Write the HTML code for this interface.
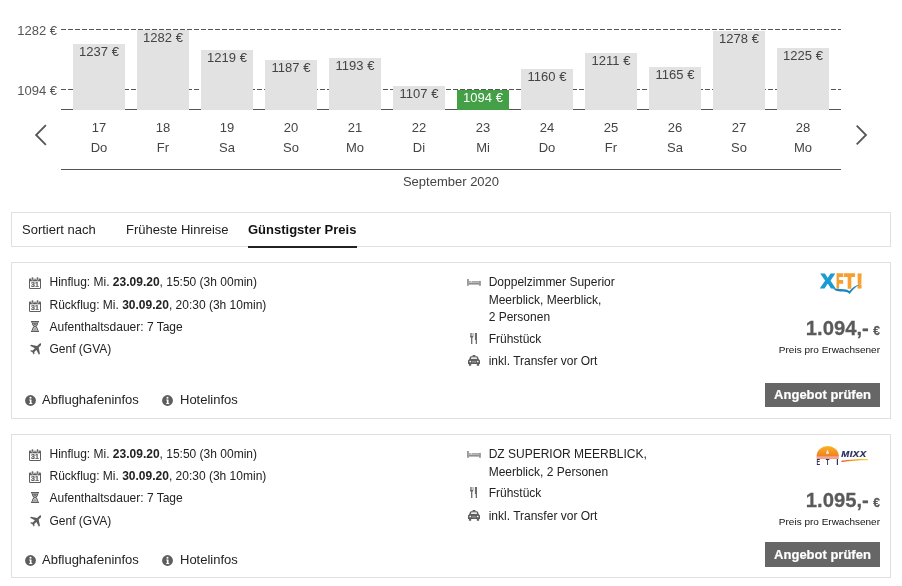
<!DOCTYPE html>
<html lang="de"><head><meta charset="utf-8"><title>Angebote</title>
<style>
html,body{margin:0;padding:0;background:#fff;}
body{width:902px;height:586px;position:relative;overflow:hidden;font-family:"Liberation Sans",Arial,Helvetica,sans-serif;color:#222;font-size:12px;}
.abs{position:absolute}
.ylab{position:absolute;left:0;width:57px;text-align:right;font-size:13px;color:#555;line-height:14px}
.solid{position:absolute;left:61px;width:780px;height:1px;background:#555}
.bar{position:absolute;width:52px;background:#e2e2e2;text-align:center;font-size:13px;color:#444;line-height:14px}
.bar span{position:absolute;left:0;right:0;top:1px;white-space:nowrap}
.bar.g{background:#43a047;color:#fff}
.dl{position:absolute;width:52px;text-align:center;font-size:13px;color:#444;line-height:16px}
.month{position:absolute;left:61px;width:780px;top:174px;text-align:center;font-size:13px;color:#444;line-height:16px}
.tabs{position:absolute;left:11px;top:212px;width:878px;height:33px;border:1px solid #e0e0e0;background:#fff}
.tabs span{position:absolute;top:9px;font-size:13px;line-height:16px;color:#222;white-space:nowrap}
.tabs .act{font-weight:bold;color:#111}
.tabs .ul{position:absolute;left:236px;top:33px;width:109px;height:2px;background:#222}
.card{position:absolute;left:11px;width:878px;border:1px solid #e0e0e0;background:#fff}
.row{position:absolute;font-size:12px;line-height:17.500px;color:#222;white-space:nowrap}
.row b{font-weight:bold}
.ic{position:absolute;display:block}
.lk{position:absolute;white-space:nowrap;font-size:13px;line-height:16px;color:#222}
.logo{position:absolute}
.price{position:absolute;right:10px;transform:translateY(-.2px) scaleY(1.030);transform-origin:100% 79.500%;word-spacing:-1.200px;-webkit-text-stroke:.25px #5a5a5a;font-size:20.300px;font-weight:bold;color:#5a5a5a;line-height:24px;white-space:nowrap}
.price small{font-size:12px}
.ppe{position:absolute;right:10px;transform:scaleY(.880);transform-origin:100% 78.900%;font-size:10px;color:#111;line-height:12px;white-space:nowrap}
.btn{position:absolute;right:10px;-webkit-text-stroke:.2px #fff;width:115px;height:24px;background:#666;color:#fff;font-weight:bold;font-size:13px;line-height:24px;text-align:center;white-space:nowrap}
</style></head><body>
<div class="ylab" style="top:24px">1282 €</div>
<div class="ylab" style="top:84px">1094 €</div>
<svg class="abs" style="left:61px;top:29px" width="780" height="62" viewBox="0 0 780 62"><path d="M0 .5h780M0 60.500h780" stroke="#555" stroke-width="1" stroke-dasharray="5 2" fill="none"/></svg>
<div class="solid" style="top:109px"></div>
<div class="bar" style="left:73px;top:44px;height:66px"><span>1237 €</span></div>
<div class="dl" style="left:73px;top:120px">17</div>
<div class="dl" style="left:73px;top:140px">Do</div>
<div class="bar" style="left:137px;top:30px;height:80px"><span>1282 €</span></div>
<div class="dl" style="left:137px;top:120px">18</div>
<div class="dl" style="left:137px;top:140px">Fr</div>
<div class="bar" style="left:201px;top:50px;height:60px"><span>1219 €</span></div>
<div class="dl" style="left:201px;top:120px">19</div>
<div class="dl" style="left:201px;top:140px">Sa</div>
<div class="bar" style="left:265px;top:60px;height:50px"><span>1187 €</span></div>
<div class="dl" style="left:265px;top:120px">20</div>
<div class="dl" style="left:265px;top:140px">So</div>
<div class="bar" style="left:329px;top:58px;height:52px"><span>1193 €</span></div>
<div class="dl" style="left:329px;top:120px">21</div>
<div class="dl" style="left:329px;top:140px">Mo</div>
<div class="bar" style="left:393px;top:86px;height:24px"><span>1107 €</span></div>
<div class="dl" style="left:393px;top:120px">22</div>
<div class="dl" style="left:393px;top:140px">Di</div>
<div class="bar g" style="left:457px;top:90px;height:20px"><span>1094 €</span></div>
<div class="dl" style="left:457px;top:120px">23</div>
<div class="dl" style="left:457px;top:140px">Mi</div>
<div class="bar" style="left:521px;top:69px;height:41px"><span>1160 €</span></div>
<div class="dl" style="left:521px;top:120px">24</div>
<div class="dl" style="left:521px;top:140px">Do</div>
<div class="bar" style="left:585px;top:53px;height:57px"><span>1211 €</span></div>
<div class="dl" style="left:585px;top:120px">25</div>
<div class="dl" style="left:585px;top:140px">Fr</div>
<div class="bar" style="left:649px;top:67px;height:43px"><span>1165 €</span></div>
<div class="dl" style="left:649px;top:120px">26</div>
<div class="dl" style="left:649px;top:140px">Sa</div>
<div class="bar" style="left:713px;top:31px;height:79px"><span>1278 €</span></div>
<div class="dl" style="left:713px;top:120px">27</div>
<div class="dl" style="left:713px;top:140px">So</div>
<div class="bar" style="left:777px;top:48px;height:62px"><span>1225 €</span></div>
<div class="dl" style="left:777px;top:120px">28</div>
<div class="dl" style="left:777px;top:140px">Mo</div>
<svg class="abs" style="left:33px;top:123px" width="16" height="24" viewBox="0 0 16 24"><path d="M12.900 2.200L3.100 12L12.900 21.800" fill="none" stroke="#555" stroke-width="1.800"/></svg>
<svg class="abs" style="left:853px;top:123px" width="16" height="24" viewBox="0 0 16 24"><path d="M3.700 2.600L13 12L3.700 21.400" fill="none" stroke="#555" stroke-width="1.800"/></svg>
<div class="solid" style="top:169px"></div>
<div class="month">September 2020</div>
<div class="tabs"><span style="left:10px">Sortiert nach</span><span style="left:114px">Früheste Hinreise</span><span class="act" style="left:236px">Günstigster Preis</span><div class="ul"></div></div>
<div class="card" style="top:262px;height:155px">
<div class="row" style="left:37.5px;top:11px">Hinflug: Mi. <b>23.09.20</b>, 15:50 (3h 00min)</div>
<div class="row" style="left:37.5px;top:34px">Rückflug: Mi. <b>30.09.20</b>, 20:30 (3h 10min)</div>
<div class="row" style="left:37.5px;top:56px">Aufenthaltsdauer: 7 Tage</div>
<div class="row" style="left:37.5px;top:78px">Genf (GVA)</div>
<svg class="ic" style="left:17px;top:14px" width="12" height="12" viewBox="0 0 12 12"><path d="M1.200 1.400h9.600c.7 0 1.200.5 1.200 1.200v8.200c0 .7-.5 1.200-1.200 1.200h-9.600c-.7 0-1.200-.5-1.200-1.200v-8.200c0-.7.5-1.200 1.200-1.200z" fill="#5e5e5e"/><rect x="1" y="4.300" width="10" height="6.700" fill="#fff"/><rect x="2.400" y="0" width="2" height="3.200" rx=".8" fill="#5e5e5e" stroke="#fff" stroke-width=".6"/><rect x="7.600" y="0" width="2" height="3.200" rx=".8" fill="#5e5e5e" stroke="#fff" stroke-width=".6"/><rect x="5.400" y="1" width="1.200" height="1.600" fill="#fff"/><text x="6" y="10.200" font-size="7" font-weight="bold" text-anchor="middle" fill="#5e5e5e" stroke="#5e5e5e" stroke-width=".2" font-family="Liberation Sans, sans-serif">31</text></svg>
<svg class="ic" style="left:17px;top:37px" width="12" height="12" viewBox="0 0 12 12"><path d="M1.200 1.400h9.600c.7 0 1.200.5 1.200 1.200v8.200c0 .7-.5 1.200-1.200 1.200h-9.600c-.7 0-1.200-.5-1.200-1.200v-8.200c0-.7.5-1.200 1.200-1.200z" fill="#5e5e5e"/><rect x="1" y="4.300" width="10" height="6.700" fill="#fff"/><rect x="2.400" y="0" width="2" height="3.200" rx=".8" fill="#5e5e5e" stroke="#fff" stroke-width=".6"/><rect x="7.600" y="0" width="2" height="3.200" rx=".8" fill="#5e5e5e" stroke="#fff" stroke-width=".6"/><rect x="5.400" y="1" width="1.200" height="1.600" fill="#fff"/><text x="6" y="10.200" font-size="7" font-weight="bold" text-anchor="middle" fill="#5e5e5e" stroke="#5e5e5e" stroke-width=".2" font-family="Liberation Sans, sans-serif">31</text></svg>
<svg class="ic" style="left:19px;top:58.30000000000001px" width="8" height="11" viewBox="0 0 8 11"><rect x="0" y="0" width="8" height="1.400" fill="#5e5e5e"/><rect x="0" y="9.600" width="8" height="1.400" fill="#5e5e5e"/><path d="M1.200 1.400c0 2 1.100 3.100 2.200 4.100c-1.100 1-2.200 2.100-2.200 4.100M6.800 1.400c0 2-1.100 3.100-2.200 4.100c1.100 1 2.200 2.100 2.200 4.100" fill="none" stroke="#5e5e5e" stroke-width="1.100"/><path d="M2 9.600c.2-1.300 1-2.100 2-3c1 .9 1.800 1.700 2 3z" fill="#a0a0a0"/><path d="M1.700 1.400h4.600c-.1 1.400-1.200 2.400-2.300 3.400c-1.100-1-2.200-2-2.300-3.400z" fill="#777"/></svg>
<svg class="ic" style="left:16.8px;top:79.60000000000002px" width="12.5" height="12" viewBox="0 0 12 11.500"><path d="M11.700.3c.5.500.2 1.500-.7 2.400l-1.700 1.700l1.200 5.800l-1 1l-2.400-4.600l-2 2l.2 1.700l-.8.800l-1.200-2.200l-2.200-1.200l.8-.8l1.700.2l2-2l-4.600-2.400l1-1l5.800 1.200l1.700-1.700c.9-.9 1.900-1.200 2.400-.7z" fill="#5e5e5e"/></svg>
<div class="row" style="left:476.7px;top:11px">Doppelzimmer Superior<br>Meerblick, Meerblick,<br>2 Personen</div>
<div class="row" style="left:476.7px;top:68px">Frühstück</div>
<div class="row" style="left:476.7px;top:90px">inkl. Transfer vor Ort</div>
<svg class="ic" style="left:455px;top:16px" width="14" height="7" viewBox="0 0 14 7"><rect x="0" y="0" width="1.900" height="6.800" fill="#9a9a9a"/><rect x="12" y="1.900" width="1.900" height="4.900" fill="#9a9a9a"/><rect x="1.900" y="3.600" width="10.100" height="2" fill="#8e8e8e"/><rect x="4.600" y="2" width="7.400" height="1.600" fill="#a8a8a8"/><rect x="2.100" y="2.100" width="1.800" height="1.500" rx=".6" fill="#9a9a9a"/></svg>
<svg class="ic" style="left:458.4px;top:69.89999999999998px" width="7" height="11.5" viewBox="0 0 7 11.500"><path d="M0 0h.7v3h.65v-3h.7v3h.65v-3h.7v3.400c0 .7-.4 1.100-1.050 1.300v6.800h-1.300v-6.800c-.65-.2-1.050-.6-1.050-1.300z" fill="#6a6a6a"/><path d="M7 0v11.500h-1.300v-4.500h-.8v-7z" fill="#6a6a6a"/></svg>
<svg class="ic" style="left:456.1px;top:92.10000000000002px" width="12" height="10.8" viewBox="0 0 12 10.800"><rect x="4.600" y="0" width="2.800" height="1.500" rx=".3" fill="#5e5e5e"/><path d="M3.200 1.200h5.600c.6 0 1.100.4 1.300 1l.8 2.300c.6.200 1.100.8 1.100 1.500v3h-12v-3c0-.7.500-1.300 1.100-1.500l.8-2.300c.2-.6.700-1 1.300-1z" fill="#5e5e5e"/><path d="M3.400 2.300h5.200l.6 1.800h-6.400z" fill="#e8e8e8"/><circle cx="2.300" cy="6.500" r=".85" fill="#fff"/><circle cx="9.700" cy="6.500" r=".85" fill="#fff"/><rect x="3.900" y="5.900" width="4.200" height="1.800" fill="#8a8a8a"/><rect x=".9" y="8.600" width="2.300" height="2.200" rx=".4" fill="#5e5e5e"/><rect x="8.800" y="8.600" width="2.300" height="2.200" rx=".4" fill="#5e5e5e"/></svg>
<div class="lk" style="left:30px;top:129px">Abflughafeninfos</div><div class="lk" style="left:168px;top:129px">Hotelinfos</div>
<svg class="ic" style="left:13px;top:131.60000000000002px" width="11" height="11" viewBox="0 0 11 11"><circle cx="5.500" cy="5.500" r="5.400" fill="#5e5e5e"/><path d="M4.200 4.600h2.300v3.300h.7v1h-3v-1h.7v-2.300h-.7z" fill="#fff"/><circle cx="5.500" cy="2.800" r="1.050" fill="#fff"/></svg>
<svg class="ic" style="left:150px;top:131.60000000000002px" width="11" height="11" viewBox="0 0 11 11"><circle cx="5.500" cy="5.500" r="5.400" fill="#5e5e5e"/><path d="M4.200 4.600h2.300v3.300h.7v1h-3v-1h.7v-2.300h-.7z" fill="#fff"/><circle cx="5.500" cy="2.800" r="1.050" fill="#fff"/></svg>
<svg class="logo" style="left:806px;top:8px" width="46" height="26" viewBox="0 0 46 26">
<g font-family="Liberation Sans, sans-serif" font-weight="bold" font-size="20" stroke-linejoin="miter">
<text x="2.800" y="17.400" font-size="20.400" fill="#1b9bd3" stroke="#1b9bd3" stroke-width="1.200" textLength="14" lengthAdjust="spacingAndGlyphs">X</text>
<text x="18.200" y="17.300" fill="#f7a031" stroke="#f7a031" stroke-width="1.500" textLength="7" lengthAdjust="spacingAndGlyphs">F</text>
<text x="26.500" y="17.300" fill="#f7a031" stroke="#f7a031" stroke-width="1.500" textLength="10" lengthAdjust="spacingAndGlyphs">T</text>
<text x="38.300" y="17.400" fill="#f7a031" stroke="#f7a031" stroke-width="1.200">!</text>
</g>
<path d="M14.800 16.600c3 2 7.200 1.400 11.200 1.600c2.400.1 4.200.9 5.400 1.900c2.500-3 5.700-5.300 10.400-6.800c-4 2.400-7.200 5.700-10.200 9.600c-1.800-1.600-4-2.200-6.500-2.300c-4-.2-8 .4-10.300-4z" fill="#1b87bd"/>
</svg>
<div class="price" style="top:53px">1.094,- <small>€</small></div>
<div class="ppe" style="top:81px">Preis pro Erwachsener</div>
<div class="btn" style="top:120px;">Angebot prüfen</div>
</div>
<div class="card" style="top:434px;height:142px">
<div class="row" style="left:37.5px;top:11px">Hinflug: Mi. <b>23.09.20</b>, 15:50 (3h 00min)</div>
<div class="row" style="left:37.5px;top:33px">Rückflug: Mi. <b>30.09.20</b>, 20:30 (3h 10min)</div>
<div class="row" style="left:37.5px;top:55px">Aufenthaltsdauer: 7 Tage</div>
<div class="row" style="left:37.5px;top:78px">Genf (GVA)</div>
<svg class="ic" style="left:17px;top:14px" width="12" height="12" viewBox="0 0 12 12"><path d="M1.200 1.400h9.600c.7 0 1.200.5 1.200 1.200v8.200c0 .7-.5 1.200-1.200 1.200h-9.600c-.7 0-1.200-.5-1.200-1.200v-8.200c0-.7.5-1.200 1.200-1.200z" fill="#5e5e5e"/><rect x="1" y="4.300" width="10" height="6.700" fill="#fff"/><rect x="2.400" y="0" width="2" height="3.200" rx=".8" fill="#5e5e5e" stroke="#fff" stroke-width=".6"/><rect x="7.600" y="0" width="2" height="3.200" rx=".8" fill="#5e5e5e" stroke="#fff" stroke-width=".6"/><rect x="5.400" y="1" width="1.200" height="1.600" fill="#fff"/><text x="6" y="10.200" font-size="7" font-weight="bold" text-anchor="middle" fill="#5e5e5e" stroke="#5e5e5e" stroke-width=".2" font-family="Liberation Sans, sans-serif">31</text></svg>
<svg class="ic" style="left:17px;top:36px" width="12" height="12" viewBox="0 0 12 12"><path d="M1.200 1.400h9.600c.7 0 1.200.5 1.200 1.200v8.200c0 .7-.5 1.200-1.200 1.200h-9.600c-.7 0-1.200-.5-1.200-1.200v-8.200c0-.7.5-1.200 1.200-1.200z" fill="#5e5e5e"/><rect x="1" y="4.300" width="10" height="6.700" fill="#fff"/><rect x="2.400" y="0" width="2" height="3.200" rx=".8" fill="#5e5e5e" stroke="#fff" stroke-width=".6"/><rect x="7.600" y="0" width="2" height="3.200" rx=".8" fill="#5e5e5e" stroke="#fff" stroke-width=".6"/><rect x="5.400" y="1" width="1.200" height="1.600" fill="#fff"/><text x="6" y="10.200" font-size="7" font-weight="bold" text-anchor="middle" fill="#5e5e5e" stroke="#5e5e5e" stroke-width=".2" font-family="Liberation Sans, sans-serif">31</text></svg>
<svg class="ic" style="left:19px;top:57.30000000000001px" width="8" height="11" viewBox="0 0 8 11"><rect x="0" y="0" width="8" height="1.400" fill="#5e5e5e"/><rect x="0" y="9.600" width="8" height="1.400" fill="#5e5e5e"/><path d="M1.200 1.400c0 2 1.100 3.100 2.200 4.100c-1.100 1-2.200 2.100-2.200 4.100M6.800 1.400c0 2-1.100 3.100-2.200 4.100c1.100 1 2.200 2.100 2.200 4.100" fill="none" stroke="#5e5e5e" stroke-width="1.100"/><path d="M2 9.600c.2-1.300 1-2.100 2-3c1 .9 1.800 1.700 2 3z" fill="#a0a0a0"/><path d="M1.700 1.400h4.600c-.1 1.400-1.200 2.400-2.300 3.400c-1.100-1-2.200-2-2.300-3.400z" fill="#777"/></svg>
<svg class="ic" style="left:16.8px;top:79.60000000000002px" width="12.5" height="12" viewBox="0 0 12 11.500"><path d="M11.700.3c.5.500.2 1.500-.7 2.400l-1.700 1.700l1.200 5.800l-1 1l-2.400-4.600l-2 2l.2 1.700l-.8.800l-1.200-2.200l-2.200-1.200l.8-.8l1.700.2l2-2l-4.600-2.400l1-1l5.800 1.200l1.700-1.700c.9-.9 1.900-1.200 2.400-.7z" fill="#5e5e5e"/></svg>
<div class="row" style="left:476.7px;top:11px">DZ SUPERIOR MEERBLICK,<br>Meerblick, 2 Personen</div>
<div class="row" style="left:476.7px;top:50px">Frühstück</div>
<div class="row" style="left:476.7px;top:73px">inkl. Transfer vor Ort</div>
<svg class="ic" style="left:455px;top:16px" width="14" height="7" viewBox="0 0 14 7"><rect x="0" y="0" width="1.900" height="6.800" fill="#9a9a9a"/><rect x="12" y="1.900" width="1.900" height="4.900" fill="#9a9a9a"/><rect x="1.900" y="3.600" width="10.100" height="2" fill="#8e8e8e"/><rect x="4.600" y="2" width="7.400" height="1.600" fill="#a8a8a8"/><rect x="2.100" y="2.100" width="1.800" height="1.500" rx=".6" fill="#9a9a9a"/></svg>
<svg class="ic" style="left:458.4px;top:51.89999999999998px" width="7" height="11.5" viewBox="0 0 7 11.500"><path d="M0 0h.7v3h.65v-3h.7v3h.65v-3h.7v3.400c0 .7-.4 1.100-1.050 1.300v6.800h-1.300v-6.800c-.65-.2-1.050-.6-1.050-1.300z" fill="#6a6a6a"/><path d="M7 0v11.500h-1.300v-4.500h-.8v-7z" fill="#6a6a6a"/></svg>
<svg class="ic" style="left:456.1px;top:75.10000000000002px" width="12" height="10.8" viewBox="0 0 12 10.800"><rect x="4.600" y="0" width="2.800" height="1.500" rx=".3" fill="#5e5e5e"/><path d="M3.200 1.200h5.600c.6 0 1.100.4 1.300 1l.8 2.300c.6.200 1.100.8 1.100 1.500v3h-12v-3c0-.7.500-1.300 1.100-1.500l.8-2.300c.2-.6.700-1 1.300-1z" fill="#5e5e5e"/><path d="M3.400 2.300h5.200l.6 1.800h-6.400z" fill="#e8e8e8"/><circle cx="2.300" cy="6.500" r=".85" fill="#fff"/><circle cx="9.700" cy="6.500" r=".85" fill="#fff"/><rect x="3.900" y="5.900" width="4.200" height="1.800" fill="#8a8a8a"/><rect x=".9" y="8.600" width="2.300" height="2.200" rx=".4" fill="#5e5e5e"/><rect x="8.800" y="8.600" width="2.300" height="2.200" rx=".4" fill="#5e5e5e"/></svg>
<div class="lk" style="left:30px;top:117px">Abflughafeninfos</div><div class="lk" style="left:168px;top:117px">Hotelinfos</div>
<svg class="ic" style="left:13px;top:119.60000000000002px" width="11" height="11" viewBox="0 0 11 11"><circle cx="5.500" cy="5.500" r="5.400" fill="#5e5e5e"/><path d="M4.200 4.600h2.300v3.300h.7v1h-3v-1h.7v-2.300h-.7z" fill="#fff"/><circle cx="5.500" cy="2.800" r="1.050" fill="#fff"/></svg>
<svg class="ic" style="left:150px;top:119.60000000000002px" width="11" height="11" viewBox="0 0 11 11"><circle cx="5.500" cy="5.500" r="5.400" fill="#5e5e5e"/><path d="M4.200 4.600h2.300v3.300h.7v1h-3v-1h.7v-2.300h-.7z" fill="#fff"/><circle cx="5.500" cy="2.800" r="1.050" fill="#fff"/></svg>
<svg class="logo" style="left:804px;top:10.7px" width="56" height="24" viewBox="0 0 56 24">
<defs><linearGradient id="sgrad" x1="0" y1="0" x2="0" y2="1"><stop offset="0" stop-color="#fbb324"/><stop offset="1" stop-color="#f0801f"/></linearGradient>
<linearGradient id="lgrad" x1="0" y1="0" x2="1" y2="0"><stop offset="0" stop-color="#e2472f"/><stop offset=".45" stop-color="#f5a11e"/><stop offset="1" stop-color="#fbd43a"/></linearGradient></defs>
<path d="M.6 10.300a11.100 10.300 0 0 1 22.200 0z" fill="url(#sgrad)"/>
<path d="M11.500 3.500l1.600 4.300h-3.200z" fill="#fff" opacity=".85"/>
<rect x=".6" y="10.500" width="22.200" height="1" fill="#e5533a"/>
<rect x=".6" y="12" width="22.200" height=".8" fill="#f08a5a"/>
<g font-family="Liberation Sans, sans-serif" font-weight="bold" font-size="8.200" fill="#27305f">
<text x=".5" y="19.200" textLength="3.600" lengthAdjust="spacingAndGlyphs">E</text><text x="9.700" y="19.200" textLength="3.700" lengthAdjust="spacingAndGlyphs">T</text><text x="20.300" y="19.200">I</text>
<text transform="translate(25.200,11.400) scale(1.090,1)" font-size="8.800" font-style="italic" letter-spacing=".45" stroke="#27305f" stroke-width=".2">MIXX</text></g>
<path d="M25.500 14.800c9-1.600 18-1.900 26.500-1.800v1.200c-8.500 0-17.500.5-26.500 1.700z" fill="url(#lgrad)"/>
</svg>
<div class="price" style="top:53px">1.095,- <small>€</small></div>
<div class="ppe" style="top:81px">Preis pro Erwachsener</div>
<div class="btn" style="top:107px;height:24.500px;line-height:25px">Angebot prüfen</div>
</div>
</body></html>
